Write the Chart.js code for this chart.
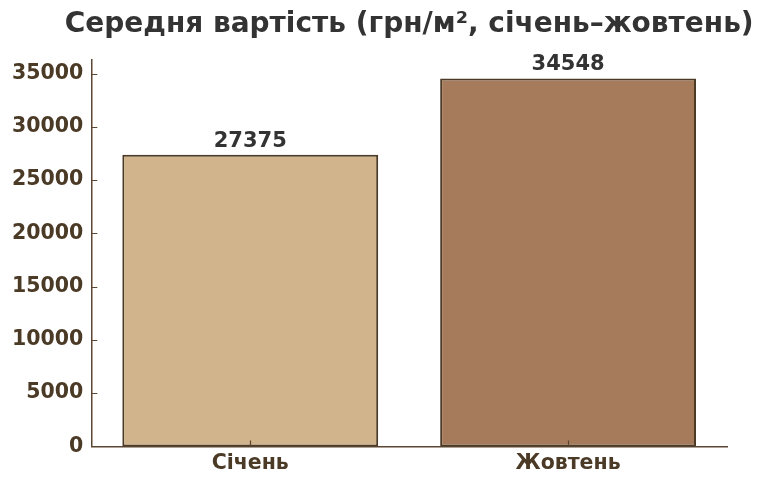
<!DOCTYPE html>
<html>
<head>
<meta charset="utf-8">
<script src="https://cdn.jsdelivr.net/npm/chart.js@4"></script>
<style>
  html, body { margin: 0; padding: 0; background: #fff; }
  #wrap { width: 768px; height: 485px; }
</style>
</head>
<body>
<div id="wrap"><canvas id="mycanvas"></canvas></div>
<script>
// data
var months = ['Січень', 'Жовтень'];
var price = [27375, 34548];
var barColors = ['#D2B48C', '#A67B5B'];
var yTicks = [0, 5000, 10000, 15000, 20000, 25000, 30000, 35000];
var yMax = 36275;
var titleText = 'Середня вартість (грн/м², січень–жовтень)';

var axisColor = '#5a4631';
var labelColor = '#4a3a26';

// matplotlib-like inward ticks
var innerTicks = {
	id: 'innerTicks',
	afterDraw: function(chart){
		var ctx = chart.ctx;
		var x = chart.scales.x, y = chart.scales.y;
		ctx.save();
		ctx.strokeStyle = axisColor;
		ctx.lineWidth = 1.2;
		ctx.beginPath();
		for(var i = 0; i < y.ticks.length; i++){
			var py = Math.round(y.getPixelForTick(i)) + 0.5;
			ctx.moveTo(x.left, py);
			ctx.lineTo(x.left + 6, py);
		}
		for(var j = 0; j < x.ticks.length; j++){
			var px = Math.round(x.getPixelForTick(j)) + 0.5;
			ctx.moveTo(px, y.bottom);
			ctx.lineTo(px, y.bottom - 6);
		}
		ctx.stroke();
		ctx.restore();
	}
};

// value labels on top of the bars + title centred over the axes
var barValues = {
	id: 'barValues',
	afterDatasetsDraw: function(chart){
		var ctx = chart.ctx;
		var meta = chart.getDatasetMeta(0);
		var area = chart.chartArea;
		ctx.save();
		ctx.font = 'bold 21px "DejaVu Sans"';
		ctx.fillStyle = '#333333';
		ctx.textAlign = 'center';
		ctx.textBaseline = 'bottom';
		meta.data.forEach(function(bar, i){
			ctx.fillText(String(price[i]), bar.x, bar.y - 3);
		});
		ctx.font = 'bold 28px "DejaVu Sans"';
		ctx.textBaseline = 'middle';
		ctx.fillText(titleText, (area.left + area.right) / 2, 25);
		ctx.restore();
	}
};

var ctx = document.getElementById('mycanvas');
var barGraph = new Chart(ctx, {
	type: 'bar',
	data: {
		labels: months,
		datasets: [{
			data: price,
			backgroundColor: barColors,
			borderColor: '#4a3a26',
			borderWidth: 2,
			borderSkipped: false,
			barPercentage: 0.805,
			categoryPercentage: 1.0
		}]
	},
	options: {
		responsive: true,
		maintainAspectRatio: false,
		animation: false,
		layout: { padding: { left: 4, right: 41, top: 60, bottom: 4 } },
		plugins: {
			legend: { display: false },
			tooltip: { enabled: false },
			title: { display: false }
		},
		scales: {
			x: {
				grid: { display: false, drawTicks: false },
				border: { color: axisColor, width: 1.5 },
				ticks: {
					color: labelColor,
					padding: 5,
					font: { family: '"DejaVu Sans"', size: 20.5, weight: 'bold' }
				}
			},
			y: {
				min: 0,
				max: yMax,
				afterBuildTicks: function(scale){
					scale.ticks = yTicks.map(function(v){ return { value: v }; });
				},
				grid: { display: false, drawTicks: false },
				border: { color: axisColor, width: 1.5 },
				ticks: {
					color: labelColor,
					padding: 8,
					font: { family: '"DejaVu Sans"', size: 20.5, weight: 'bold' },
					callback: function(v){ return String(v); }
				}
			}
		}
	},
	plugins: [innerTicks, barValues]
});
</script>
</body>
</html>
